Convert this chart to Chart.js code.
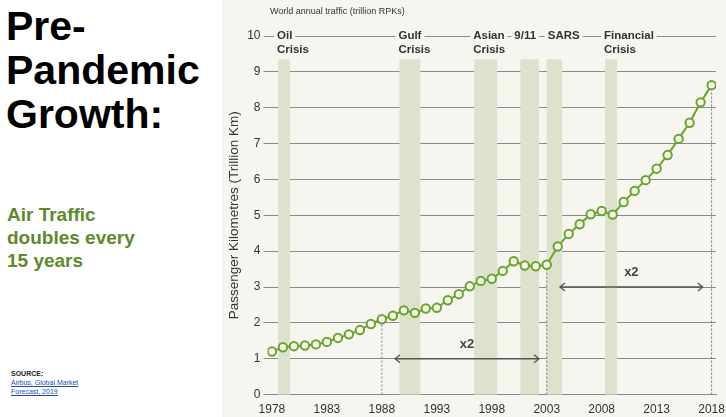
<!DOCTYPE html>
<html><head><meta charset="utf-8">
<script src="https://cdn.jsdelivr.net/npm/chart.js@4"></script>
<style>
body{margin:0;width:726px;height:417px;background:#fff;font-family:"Liberation Sans",Arial,sans-serif;overflow:hidden;position:relative}
#left h1{position:absolute;left:6px;top:4px;margin:0;font-size:41px;line-height:44px;font-weight:bold;color:#000}
#left .sub{position:absolute;left:7px;top:203px;font-size:19px;line-height:23px;font-weight:bold;color:#5e8a2c}
#left .src{position:absolute;left:11px;top:369px;font-size:7px;line-height:9px;color:#222}
#left .src a{color:#1a4fb0;text-decoration:underline}
#wrap{position:absolute;left:222px;top:0;width:504px;height:417px;background:#f7f5ef}
</style></head><body>
<div id="left">
<h1>Pre-<br>Pandemic<br>Growth:</h1>
<div class="sub">Air Traffic<br>doubles every<br>15 years</div>
<div class="src"><b>SOURCE:</b><br><a>Airbus, Global Market<br>Forecast, 2019</a></div>
</div>
<div id="wrap"><canvas id="c" width="504" height="417"></canvas></div>
<script>
const years = [];
for (let y = 1978; y <= 2018; y++) years.push(y);
const traffic = [1.2,1.32,1.35,1.37,1.4,1.47,1.58,1.68,1.8,1.97,2.1,2.2,2.35,2.28,2.4,2.42,2.63,2.8,3.02,3.17,3.23,3.45,3.72,3.6,3.58,3.62,4.13,4.48,4.75,5.03,5.12,5.02,5.37,5.68,5.98,6.3,6.68,7.13,7.58,8.15,8.63];
const xTickYears = [1978,1983,1988,1993,1998,2003,2008,2013,2018];
const crisisNames = [['Oil','Crisis'],['Gulf','Crisis'],['Asian','Crisis'],['9/11'],['SARS'],['Financial','Crisis']];
const crisisStart = [1978.55,1989.6,1996.4,2000.6,2003.0,2008.3];
const crisisEnd = [1979.65,1991.5,1998.5,2002.3,2004.4,2009.4];
const doublingFrom = [1989.2,2004.2];
const doublingTo = [2002.3,2017.2];
const doublingLevel = [1,3];
const dropYears = [1988,2003,2018];

const overlay = {
  id:'overlay',
  beforeDatasetsDraw(chart){
    const {ctx, scales:{x,y}} = chart;
    ctx.save();
    ctx.fillStyle = '#dde2cd';
    crisisStart.forEach((s,i)=>{
      const x0 = x.getPixelForValue(s), x1 = x.getPixelForValue(crisisEnd[i]);
      ctx.fillRect(x0, y.getPixelForValue(9.35), x1-x0, y.getPixelForValue(0)-y.getPixelForValue(9.35));
    });
    ctx.font = 'bold 11.5px "Liberation Sans Narrow","Liberation Sans",Arial';
    ctx.textBaseline = 'middle';
    const yt = y.getPixelForValue(10);
    crisisNames.forEach((lines,i)=>{
      const xl = x.getPixelForValue(crisisStart[i]) - (i===3 ? 6 : i===4 ? -1 : 1);
      ctx.fillStyle = '#f7f5ef';
      ctx.fillRect(xl-3, yt-7, ctx.measureText(lines[0]).width+6, 14);
      ctx.fillStyle = '#333';
      lines.forEach((l,k)=>ctx.fillText(l, xl, yt + k*14));
    });
    ctx.strokeStyle = '#777'; ctx.lineWidth = 1; ctx.setLineDash([2,2]);
    dropYears.forEach(yr=>{
      const px = x.getPixelForValue(yr);
      ctx.beginPath(); ctx.moveTo(px, y.getPixelForValue(0));
      ctx.lineTo(px, y.getPixelForValue(traffic[years.indexOf(yr)])); ctx.stroke();
    });
    ctx.setLineDash([]);
    ctx.strokeStyle = '#555'; ctx.lineWidth = 1.3;
    ctx.fillStyle = '#444'; ctx.font = 'bold 13px "Liberation Sans",Arial';
    ctx.textAlign = 'center'; ctx.textBaseline = 'bottom';
    doublingFrom.forEach((f,i)=>{
      const a = x.getPixelForValue(f), b = x.getPixelForValue(doublingTo[i]), py = y.getPixelForValue(doublingLevel[i]);
      ctx.beginPath(); ctx.moveTo(a,py); ctx.lineTo(b,py);
      ctx.moveTo(a+5,py-4); ctx.lineTo(a,py); ctx.lineTo(a+5,py+4);
      ctx.moveTo(b-5,py-4); ctx.lineTo(b,py); ctx.lineTo(b-5,py+4);
      ctx.stroke();
      ctx.fillText('x2', (a+b)/2, py-8);
    });
    ctx.textAlign = 'left'; ctx.textBaseline = 'middle';
    ctx.font = '9px "Liberation Sans Narrow","Liberation Sans",Arial'; ctx.fillStyle = '#333';
    ctx.fillText('World annual traffic (trillion RPKs)', 48, 12);
    ctx.restore();
  }
};

new Chart(document.getElementById('c'), {
  type:'line',
  data:{datasets:[{
    data: years.map((yr,i)=>({x:yr, y:traffic[i]})),
    borderColor:'#6aa52b', borderWidth:2, pointRadius:4.2, pointBorderWidth:2,
    pointBackgroundColor:'#f7f5ef', pointBorderColor:'#6aa52b', tension:0
  }]},
  options:{
    responsive:false, animation:false,
    layout:{padding:{top:36,right:10,left:0,bottom:0}},
    plugins:{legend:{display:false}, tooltip:{enabled:false}},
    scales:{
      x:{type:'linear', min:1977.6, max:2018.4,
        afterBuildTicks(s){ s.ticks = xTickYears.map(v=>({value:v})); },
        ticks:{color:'#333', font:{size:12, family:'"Liberation Sans Narrow","Liberation Sans",Arial'}, maxRotation:0, autoSkip:false, padding:0, callback:v=>String(v)},
        grid:{display:false}, border:{color:'#888'}},
      y:{min:0, max:10, ticks:{stepSize:1, color:'#333', font:{size:12, family:'"Liberation Sans Narrow","Liberation Sans",Arial'}, padding:3},
        grid:{color:'#8a8a8a', drawTicks:true, tickLength:4}, border:{display:false},
        title:{display:true, text:'Passenger Kilometres (Trillion Km)', color:'#333', font:{size:13.5, family:'"Liberation Sans",Arial'}, padding:{top:4,bottom:2}}}
    }
  },
  plugins:[overlay]
});
</script>
</body></html>
